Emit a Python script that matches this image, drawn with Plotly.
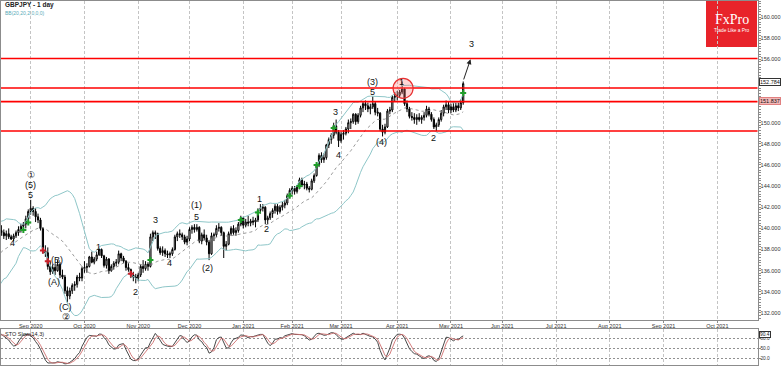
import numpy as np
import pandas as pd
import plotly.graph_objects as go

W, H = 782, 366

# ---------------- data ----------------
holidays = ["2020-12-25", "2021-01-01"]
calendar = [d for d in pd.bdate_range("2020-07-16", "2021-10-29")
            if d.strftime("%Y-%m-%d") not in holidays]

opens = [134.9, 134.6, 134.8, 135.6, 136.9, 135.8, 135.9, 136.6, 136.3, 135.8,
         136.7, 137.2, 138.6, 138.9, 138.6, 139.0, 139.3, 138.4, 138.3, 139.2,
         139.5, 139.8, 139.6, 139.3, 139.5, 139.2, 139.0, 139.3, 139.6, 139.9,
         140.2, 140.4, 140.9, 141.6, 141.9, 141.6, 141.1, 140.8, 140.0, 137.9,
         137.7, 136.4, 135.9, 136.3, 136.0, 136.6, 135.6, 135.4, 134.1, 133.6,
         134.1, 134.6, 134.7, 135.4, 135.3, 136.2, 136.3, 136.4, 137.3, 136.8,
         137.1, 137.5, 138.0, 137.4, 136.5, 137.1, 136.0, 136.4, 136.7, 136.8,
         137.6, 137.2, 136.9, 136.3, 136.1, 135.6, 135.4, 135.3, 135.6, 136.4,
         136.2, 136.6, 136.4, 139.2, 139.6, 139.5, 138.1, 137.7, 137.9, 137.6,
         137.5, 137.6, 138.0, 139.2, 139.5, 139.4, 139.2, 138.7, 139.0, 139.9,
         140.1, 139.9, 140.1, 138.8, 139.4, 139.1, 138.7, 137.6, 139.3, 139.4,
         140.0, 140.1, 139.6, 138.3, 138.5, 139.5, 140.0, 139.6, 139.8, 140.4,
         141.0, 140.3, 140.6, 140.5, 140.7, 140.6, 140.8, 141.7, 141.9, 142.0,
         140.8, 141.0, 141.4, 141.7, 142.1, 141.6, 142.0, 142.2, 142.4, 143.1,
         143.6, 143.8, 143.5, 143.9, 144.6, 144.1, 144.2, 143.8, 143.7, 144.5,
         145.0, 146.0, 146.9, 146.5, 146.7, 147.9, 148.4, 148.8, 149.7, 149.1,
         148.3, 148.9, 149.0, 149.4, 150.0, 150.1, 150.8, 150.1, 150.7, 151.4,
         151.8, 151.6, 151.3, 151.5, 151.8, 151.0, 150.9, 149.4, 149.1, 149.6,
         151.1, 151.2, 152.4, 152.5, 152.6, 152.9, 153.2, 151.8, 151.3, 150.6,
         150.5, 150.3, 150.5, 150.3, 150.5, 150.7, 151.3, 150.8, 150.3, 149.6,
         149.8, 150.3, 150.9, 151.5, 151.7, 151.2, 151.5, 151.2, 151.6, 151.4,
         151.9]
highs = [135.2, 135.0, 135.8, 137.1, 137.0, 136.4, 136.8, 136.9, 136.5, 136.8,
         137.4, 138.8, 139.0, 139.1, 139.3, 139.7, 139.5, 138.8, 139.3, 139.6,
         140.0, 140.3, 139.9, 139.8, 140.0, 139.4, 139.5, 139.8, 140.2, 140.4,
         140.6, 141.2, 141.8, 142.7, 142.1, 141.9, 141.4, 141.0, 140.1, 138.4,
         138.2, 136.9, 136.6, 136.7, 137.0, 136.8, 136.1, 135.6, 134.5, 134.4,
         134.8, 135.0, 135.6, 135.8, 136.4, 136.9, 136.7, 137.4, 137.8, 137.3,
         137.8, 138.1, 138.1, 137.5, 137.3, 137.2, 136.6, 136.9, 137.1, 137.9,
         137.7, 137.4, 137.0, 136.7, 136.2, 135.9, 135.7, 135.8, 136.6, 137.0,
         136.9, 136.8, 139.5, 139.8, 139.8, 139.6, 138.3, 138.3, 138.1, 137.9,
         137.8, 138.2, 139.4, 139.7, 139.9, 139.6, 139.4, 139.3, 140.1, 140.3,
         140.4, 140.4, 140.2, 139.6, 139.9, 139.4, 138.9, 139.6, 139.6, 140.3,
         140.5, 140.2, 139.7, 138.8, 139.7, 140.2, 140.3, 140.1, 140.6, 141.2,
         141.1, 140.9, 141.2, 140.9, 141.1, 141.0, 141.9, 142.3, 142.3, 142.1,
         141.2, 141.6, 141.9, 142.3, 142.3, 142.2, 142.5, 142.7, 143.3, 143.8,
         144.0, 144.0, 144.1, 144.8, 144.8, 144.5, 144.4, 144.0, 144.7, 145.2,
         146.2, 147.1, 147.2, 147.1, 148.0, 148.6, 149.0, 150.0, 150.3, 149.3,
         149.1, 149.3, 149.6, 150.3, 150.4, 150.9, 150.9, 150.9, 151.6, 152.0,
         152.1, 151.9, 151.8, 152.5, 152.0, 151.4, 151.0, 149.8, 149.9, 151.3,
         151.5, 152.6, 152.9, 153.0, 153.1, 153.9, 153.3, 152.1, 151.5, 151.0,
         150.9, 150.8, 150.9, 150.7, 151.0, 151.6, 151.5, 151.0, 150.5, 150.0,
         150.5, 151.2, 151.7, 152.1, 152.0, 151.8, 151.9, 151.9, 151.9, 152.2,
         153.9]
lows = [134.4, 134.2, 134.6, 135.4, 135.6, 135.5, 135.6, 135.9, 135.6, 135.7,
        136.4, 137.0, 138.0, 138.2, 138.5, 138.8, 138.2, 137.9, 138.1, 138.8,
        139.1, 139.3, 139.0, 138.9, 139.0, 138.9, 138.8, 139.1, 139.3, 139.6,
        139.7, 140.0, 140.5, 141.3, 141.2, 140.6, 140.5, 139.8, 137.6, 137.3,
        136.1, 135.6, 135.7, 135.6, 135.9, 135.3, 135.2, 133.8, 133.0, 133.3,
        133.8, 134.1, 134.4, 135.0, 135.0, 135.8, 135.8, 136.3, 136.7, 136.6,
        136.9, 137.4, 137.2, 136.3, 136.2, 135.7, 135.9, 136.1, 136.4, 136.6,
        136.9, 136.7, 136.0, 135.9, 135.3, 135.0, 134.8, 135.0, 135.4, 135.8,
        136.0, 136.0, 136.3, 138.8, 139.0, 137.9, 137.5, 137.4, 137.3, 137.2,
        137.2, 137.4, 137.9, 138.8, 139.1, 138.9, 138.5, 138.4, 138.8, 139.5,
        139.6, 139.7, 138.6, 138.5, 138.9, 138.4, 137.0, 137.5, 138.8, 139.2,
        139.7, 139.3, 137.2, 137.9, 138.4, 139.3, 139.4, 139.3, 139.6, 140.2,
        140.0, 140.1, 140.2, 140.2, 140.3, 140.1, 140.6, 141.4, 141.6, 140.4,
        140.4, 140.8, 141.0, 141.4, 141.3, 141.4, 141.7, 141.9, 142.2, 142.9,
        143.2, 143.2, 143.3, 143.7, 143.9, 143.7, 143.6, 143.4, 143.6, 144.3,
        144.9, 145.8, 146.2, 146.2, 146.5, 147.6, 148.0, 148.5, 148.9, 147.7,
        148.1, 148.4, 148.8, 149.0, 149.4, 149.9, 149.8, 149.9, 150.5, 151.0,
        151.2, 151.0, 150.8, 151.3, 150.7, 150.6, 149.2, 148.7, 148.9, 149.5,
        150.8, 151.0, 152.0, 152.1, 152.4, 152.7, 151.6, 151.0, 150.4, 150.2,
        149.9, 149.8, 150.1, 149.9, 150.2, 150.5, 150.6, 150.1, 149.4, 149.2,
        149.6, 150.1, 150.6, 151.2, 150.9, 150.9, 151.0, 151.0, 151.1, 151.2,
        151.7]
closes = [134.6, 134.8, 135.6, 136.9, 135.8, 135.9, 136.6, 136.3, 135.8, 136.7,
          137.2, 138.6, 138.9, 138.6, 139.0, 139.3, 138.4, 138.3, 139.2, 139.5,
          139.8, 139.6, 139.3, 139.5, 139.2, 139.0, 139.3, 139.6, 139.9, 140.2,
          140.4, 140.9, 141.6, 141.9, 141.6, 141.1, 140.8, 140.0, 137.9, 137.7,
          136.4, 135.9, 136.3, 136.0, 136.6, 135.6, 135.4, 134.1, 133.6, 134.1,
          134.6, 134.7, 135.4, 135.3, 136.2, 136.3, 136.4, 137.3, 136.8, 137.1,
          137.5, 138.0, 137.4, 136.5, 137.1, 136.0, 136.4, 136.7, 136.8, 137.6,
          137.2, 136.9, 136.3, 136.1, 135.6, 135.4, 135.3, 135.6, 136.4, 136.2,
          136.6, 136.4, 139.2, 139.6, 139.5, 138.1, 137.7, 137.9, 137.6, 137.5,
          137.6, 138.0, 139.2, 139.5, 139.4, 139.2, 138.7, 139.0, 139.9, 140.1,
          139.9, 140.1, 138.8, 139.4, 139.1, 138.7, 137.6, 139.3, 139.4, 140.0,
          140.1, 139.6, 138.3, 138.5, 139.5, 140.0, 139.6, 139.8, 140.4, 141.0,
          140.3, 140.6, 140.5, 140.7, 140.6, 140.8, 141.7, 141.9, 142.0, 140.8,
          141.0, 141.4, 141.7, 142.1, 141.6, 142.0, 142.2, 142.4, 143.1, 143.6,
          143.8, 143.5, 143.9, 144.6, 144.1, 144.2, 143.8, 143.7, 144.5, 145.0,
          146.0, 146.9, 146.5, 146.7, 147.9, 148.4, 148.8, 149.7, 149.1, 148.3,
          148.9, 149.0, 149.4, 150.0, 150.1, 150.8, 150.1, 150.7, 151.4, 151.8,
          151.6, 151.3, 151.5, 151.8, 151.0, 150.9, 149.4, 149.1, 149.6, 151.1,
          151.2, 152.4, 152.5, 152.6, 152.9, 153.2, 151.8, 151.3, 150.6, 150.5,
          150.3, 150.5, 150.3, 150.5, 150.7, 151.3, 150.8, 150.3, 149.6, 149.8,
          150.3, 150.9, 151.5, 151.7, 151.2, 151.5, 151.2, 151.6, 151.4, 151.9,
          153.7]

month_labels = ["Sep 2020", "Oct 2020", "Nov 2020", "Dec 2020", "Jan 2021",
                "Feb 2021", "Mar 2021", "Apr 2021", "May 2021", "Jun 2021",
                "Jul 2021", "Aug 2021", "Sep 2021", "Oct 2021"]

price_ticks = [132, 134, 136, 138, 140, 142, 144, 146, 148, 150, 156, 158, 160]
levels = [156.07, 153.28, 151.99, 149.21]

wave_text = ["\u2460", "(5)", "5", "4", "(B)", "(A)", "(C)", "\u2461", "1", "2", "3", "4",
             "(1)", "5", "(2)", "1", "2", "3", "4", "(3)", "5", "(4)", "1", "2", "3"]
wave_idx = [33.1, 33.1, 33.1, 25.6, 43.8, 42.5, 47.4, 47.4, 60.7, 75.7, 83.9, 89.7,
            100.9, 100.9, 105.3, 126.8, 129.6, 157.9, 158.9, 173.0, 173.0, 176.7, 184.9, 198.0, 213.3]
wave_price = [145.05, 144.11, 143.16, 138.62, 137.01, 134.93, 132.56, 131.62, 138.27, 134.01,
              140.79, 136.76, 142.21, 141.11, 136.23, 142.75, 139.91, 150.98, 146.94,
              153.88, 152.93, 148.20, 153.88, 148.52, 157.42]

sig_up_idx = [30, 32, 82, 119, 126, 139, 143, 150, 157, 210]
sig_up_price = [139.85, 140.55, 137.0, 140.8, 141.5, 143.1, 144.0, 146.0, 149.5, 152.8]
sig_dn_idx = [38, 40, 74]
sig_dn_price = [137.9, 136.9, 135.7]

# ---------------- derived ----------------
n = len(closes)
idx = np.arange(n)
c = pd.Series(closes)
mid = c.rolling(20).mean()
sd = c.rolling(20).std(ddof=0)
upper = mid + 2 * sd
lower = mid - 2 * sd
hh = pd.Series(highs).rolling(14).max()
ll = pd.Series(lows).rolling(14).min()
fastk = 100 * (c - ll) / (hh - ll)
slowk = fastk.rolling(3).mean()
slowd = slowk.rolling(3).mean()

tick_idx = []
seen = set()
for i, d in enumerate(calendar):
    key = d.strftime("%b %Y")
    if key in month_labels and key not in seen:
        seen.add(key)
        tick_idx.append(i)

# ---------------- geometry ----------------
def px(x):
    return x / W

def py(y):
    return 1 - y / H

XR = [20.845, 330.45]
xdom = [px(1), px(757.5)]
ydom_main = [py(320), py(1)]
ydom_osc = [py(365), py(329)]

fig = go.Figure()
fig.add_trace(go.Scatter(x=idx, y=upper, mode="lines", line=dict(color="#8ec6c8", width=1),
                         hoverinfo="skip"))
fig.add_trace(go.Scatter(x=idx, y=lower, mode="lines", line=dict(color="#8ec6c8", width=1),
                         hoverinfo="skip"))
fig.add_trace(go.Scatter(x=idx, y=mid, mode="lines", line=dict(color="#808080", width=0.8, dash="dot"),
                         hoverinfo="skip"))
fig.add_trace(go.Candlestick(
    x=idx, open=opens, high=highs, low=lows, close=closes,
    increasing=dict(line=dict(color="#000000", width=1), fillcolor="#ffffff"),
    decreasing=dict(line=dict(color="#000000", width=1), fillcolor="#000000"),
    whiskerwidth=0))
fig.add_trace(go.Scatter(x=sig_up_idx, y=sig_up_price, mode="markers",
                         marker=dict(symbol="cross", size=5, color="#1f9e2a")))
fig.add_trace(go.Scatter(x=sig_dn_idx, y=sig_dn_price, mode="markers",
                         marker=dict(symbol="cross", size=5, color="#c8202a")))
fig.add_trace(go.Scatter(x=idx, y=slowk, mode="lines", line=dict(color="#333333", width=0.9),
                         xaxis="x2", yaxis="y2"))
fig.add_trace(go.Scatter(x=idx, y=slowd, mode="lines", line=dict(color="#d07070", width=0.9),
                         xaxis="x2", yaxis="y2"))

shapes = []
for lv in levels:
    shapes.append(dict(type="line", xref="x domain", yref="y", x0=0, x1=1, y0=lv, y1=lv,
                       line=dict(color="#ff0000", width=1.6), layer="above"))
shapes.append(dict(type="circle", xref="x", yref="y", x0=185.4 - 4.1, x1=185.4 + 4.1,
                   y0=153.25 - 0.95, y1=153.25 + 0.95,
                   line=dict(color="#e83030", width=1.2), fillcolor="rgba(255,120,120,0.30)"))
# FxPro logo
shapes.append(dict(type="rect", xref="paper", yref="paper", x0=px(706), x1=px(757),
                   y0=py(47), y1=py(0), fillcolor="#e8232a", line=dict(width=0), layer="below"))

ann = []
for t, xi, yp in zip(wave_text, wave_idx, wave_price):
    fam = "DejaVu Sans" if t in ("\u2460", "\u2461") else "Liberation Sans"
    ann.append(dict(x=xi, y=yp, xref="x", yref="y", text=t, showarrow=False,
                    font=dict(size=9, color="#111111", family=fam)))
ann.append(dict(x=213.0, y=156.0, ax=210, ay=153.95, xref="x", yref="y", axref="x", ayref="y",
                text="", showarrow=True, arrowhead=2, arrowsize=1, arrowwidth=1, arrowcolor="#222222"))
ann.append(dict(x=px(3), y=py(5), xref="paper", yref="paper", xanchor="left", yanchor="middle",
                text="<b>GBPJPY - 1 day</b>", showarrow=False, font=dict(size=6.5, color="#222")))
ann.append(dict(x=px(3), y=py(13.5), xref="paper", yref="paper", xanchor="left", yanchor="middle",
                text="BB(20,20,2,0,0,0)", showarrow=False, font=dict(size=5, color="#5aaab8")))
ann.append(dict(x=px(3), y=py(333.5), xref="paper", yref="paper", xanchor="left", yanchor="middle",
                text="STO Slow(14,3)", showarrow=False, font=dict(size=5.5, color="#222")))
ann.append(dict(x=px(731.5), y=py(20), xref="paper", yref="paper", xanchor="center", yanchor="middle",
                text="FxPro", showarrow=False,
                font=dict(size=14, color="white", family="Liberation Serif")))
ann.append(dict(x=px(731.5), y=py(31), xref="paper", yref="paper", xanchor="center", yanchor="middle",
                text="Trade Like a Pro", showarrow=False, font=dict(size=4.8, color="white")))
ann.append(dict(x=px(759), y=153.85, xref="paper", yref="y", xanchor="left", yanchor="middle",
                text="152.784", showarrow=False, font=dict(size=5.5, color="#111"),
                bgcolor="white", bordercolor="#333", borderwidth=1, borderpad=0))
ann.append(dict(x=px(759), y=152.05, xref="paper", yref="y", xanchor="left", yanchor="middle",
                text="151.837", showarrow=False, font=dict(size=5.5, color="#111"),
                bgcolor="#f4b8b8", bordercolor="#e08080", borderwidth=1, borderpad=0))
ann.append(dict(x=px(759), y=91.5, xref="paper", yref="y2", xanchor="left", yanchor="middle",
                text="90.4", showarrow=False, font=dict(size=4.8, color="#111"),
                bgcolor="white", bordercolor="#333", borderwidth=1, borderpad=0))

grid = dict(showgrid=True, gridcolor="#c4c4c4", griddash="3px,2px", gridwidth=1)
common_x = dict(range=XR, tickmode="array", tickvals=tick_idx, ticktext=month_labels,
                showline=True, linecolor="#8c8c8c", mirror=True, zeroline=False,
                automargin=False, **grid)

fig.update_layout(
    width=W, height=H, margin=dict(l=0, r=0, t=0, b=0, autoexpand=False),
    paper_bgcolor="white", plot_bgcolor="white", showlegend=False,
    font=dict(family="Liberation Sans, Arial, sans-serif", size=6, color="#333"),
    xaxis=dict(domain=xdom, anchor="y", ticks="outside", ticklen=2, tickcolor="#8c8c8c",
               tickfont=dict(size=5.5, color="#333"), ticklabelstandoff=-2,
               rangeslider=dict(visible=False), **common_x),
    yaxis=dict(domain=ydom_main, anchor="x", range=[131.334, 161.514], side="right",
               tickmode="array", tickvals=price_ticks, ticktext=[f"{v:.3f}" for v in price_ticks],
               ticks="outside", ticklen=2, tickcolor="#8c8c8c", tickfont=dict(size=5.5, color="#333"),
               ticklabelstandoff=-1,
               showgrid=False, showline=True, linecolor="#8c8c8c", mirror=True, zeroline=False,
               automargin=False,
               minor=dict(ticks="outside", ticklen=2, dtick=0.25, tickcolor="#8c8c8c", showgrid=False)),
    xaxis2=dict(domain=xdom, anchor="y2", showticklabels=False, ticks="", **common_x),
    yaxis2=dict(domain=ydom_osc, anchor="x2", range=[0, 107.8], side="right",
                tickmode="array", tickvals=[20, 50, 80], ticktext=["20.0", "50.0", "80.0"],
                ticks="outside", ticklen=2, tickcolor="#8c8c8c", tickfont=dict(size=4.8, color="#333"),
                ticklabelstandoff=-1, automargin=False,
                showgrid=True, gridcolor="#909090", griddash="2px,2px", gridwidth=1,
                showline=True, linecolor="#8c8c8c", mirror=True, zeroline=False),
    shapes=shapes, annotations=ann,
)

fig.write_html("out.html", config={"displayModeBar": False},
               post_script="document.body.style.margin='0px';document.body.style.padding='0px';")
